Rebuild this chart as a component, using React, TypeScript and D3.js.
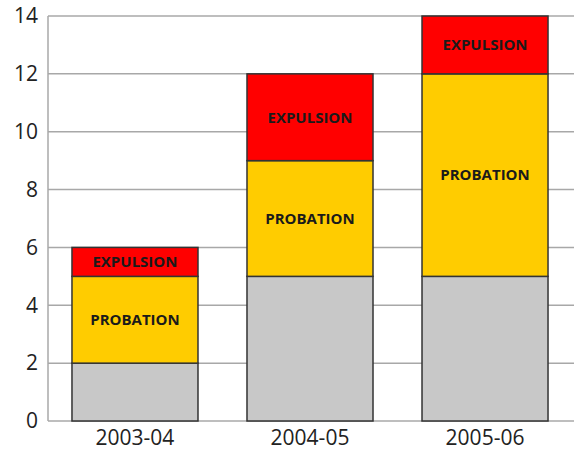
import React, { useEffect, useRef } from 'react';
import * as d3 from 'd3';

const years = ['2003-04', '2004-05', '2005-06'];
const baseValues = [2, 5, 5];
const probationValues = [3, 4, 7];
const expulsionValues = [1, 3, 2];
const yTicks = [0, 2, 4, 6, 8, 10, 12, 14];

const seriesKeys = ['base', 'probation', 'expulsion'] as const;
const seriesColors: Record<string, string> = {
  base: '#c8c8c8',
  probation: '#ffcc00',
  expulsion: '#ff0000',
};
const seriesLabels: Record<string, string> = {
  base: '',
  probation: 'PROBATION',
  expulsion: 'EXPULSION',
};

const App: React.FC = () => {
  const svgRef = useRef<SVGSVGElement>(null);

  useEffect(() => {
    if (!svgRef.current) return;
    const width = 574;
    const height = 451;
    const svg = d3.select(svgRef.current).attr('width', width).attr('height', height);
    svg.selectAll('*').remove();

    const rows = years.map((year, i) => ({
      year,
      base: baseValues[i],
      probation: probationValues[i],
      expulsion: expulsionValues[i],
    }));

    const x = d3.scaleBand().domain(years).range([48, 572]).paddingInner(0.28).paddingOuter(0.137);
    const y = d3.scaleLinear().domain([0, 14]).range([421, 16]);

    // grid lines
    svg
      .append('g')
      .selectAll('line')
      .data(yTicks)
      .enter()
      .append('line')
      .attr('x1', 48)
      .attr('x2', width)
      .attr('y1', (d) => y(d))
      .attr('y2', (d) => y(d))
      .attr('stroke', '#a8a8a8')
      .attr('stroke-width', 1.5);

    // left axis line
    svg
      .append('line')
      .attr('x1', 48)
      .attr('x2', 48)
      .attr('y1', y(14))
      .attr('y2', y(0))
      .attr('stroke', '#a8a8a8')
      .attr('stroke-width', 1.5);

    // tick labels
    svg
      .append('g')
      .selectAll('text')
      .data(yTicks)
      .enter()
      .append('text')
      .attr('x', 38)
      .attr('y', (d) => y(d))
      .attr('dy', '0.35em')
      .attr('text-anchor', 'end')
      .attr('font-family', 'Open Sans, sans-serif')
      .attr('font-size', 21)
      .attr('fill', '#222')
      .text((d) => d);

    const stacked = d3.stack<any>().keys(seriesKeys as unknown as string[])(rows);

    const layers = svg
      .append('g')
      .selectAll('g')
      .data(stacked)
      .enter()
      .append('g')
      .attr('fill', (d) => seriesColors[d.key]);

    layers
      .selectAll('rect')
      .data((d) => d)
      .enter()
      .append('rect')
      .attr('x', (d) => x(d.data.year) as number)
      .attr('width', x.bandwidth())
      .attr('y', (d) => y(d[1]))
      .attr('height', (d) => y(d[0]) - y(d[1]))
      .attr('stroke', '#333')
      .attr('stroke-width', 1.5);

    // segment labels
    stacked.forEach((layer) => {
      const label = seriesLabels[layer.key];
      if (!label) return;
      svg
        .append('g')
        .selectAll('text')
        .data(layer)
        .enter()
        .append('text')
        .attr('x', (d) => (x(d.data.year) as number) + x.bandwidth() / 2)
        .attr('y', (d) => y((d[0] + d[1]) / 2))
        .attr('dy', '0.35em')
        .attr('text-anchor', 'middle')
        .attr('font-family', 'Open Sans, sans-serif')
        .attr('font-weight', 'bold')
        .attr('font-size', 15)
        .attr('fill', '#1a1a1a')
        .text(label);
    });

    // x labels
    svg
      .append('g')
      .selectAll('text')
      .data(years)
      .enter()
      .append('text')
      .attr('x', (d) => (x(d) as number) + x.bandwidth() / 2)
      .attr('y', 438)
      .attr('dy', '0.35em')
      .attr('text-anchor', 'middle')
      .attr('font-family', 'Open Sans, sans-serif')
      .attr('font-size', 21)
      .attr('fill', '#222')
      .text((d) => d);
  }, []);

  return <svg ref={svgRef} style={{ position: 'fixed', left: 0, top: 0, background: '#fff' }} />;
};

export default App;
